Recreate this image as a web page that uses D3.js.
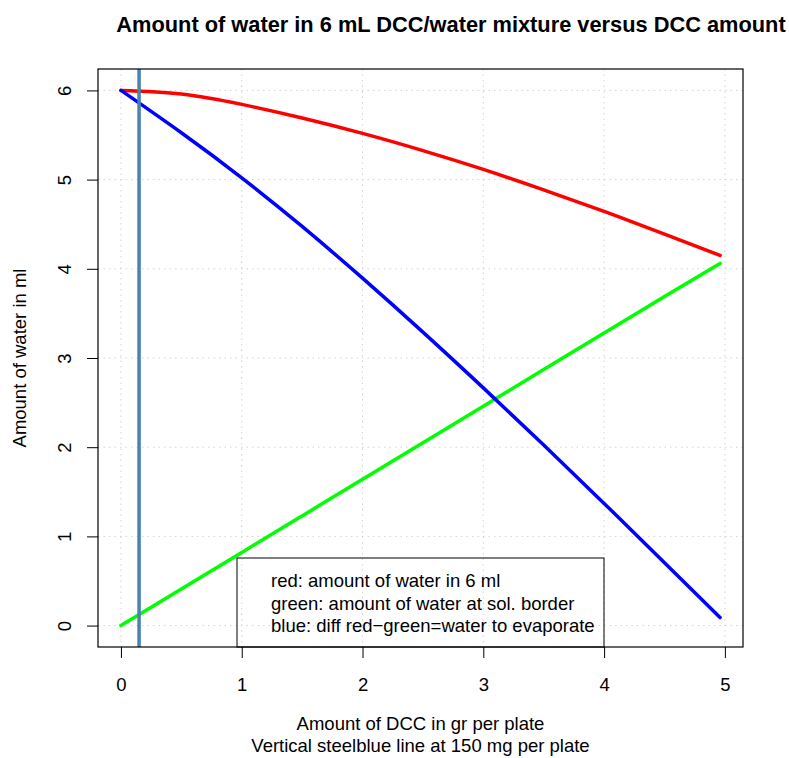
<!DOCTYPE html>
<html>
<head>
<meta charset="utf-8">
<script src="https://cdn.jsdelivr.net/npm/d3@7"></script>
<style>
  html, body { margin: 0; padding: 0; background: #fff; }
  svg { display: block; font-family: "Liberation Sans", Arial, Helvetica, sans-serif; }
</style>
</head>
<body>
<svg id="chart" width="789" height="758"></svg>
<script>
// DCC amount per plate (g)
const dccGrams = [0, 0.5, 1, 1.5, 2, 2.5, 3, 3.5, 4, 4.5, 4.96];
// water in the 6 mL DCC/water mixture (mL)
const waterTotal = [6.00, 5.96, 5.843, 5.69, 5.518, 5.325, 5.114, 4.885, 4.643, 4.39, 4.15];
// water at the solubility border (mL)
const waterBorder = [0.00, 0.41, 0.82, 1.23, 1.64, 2.05, 2.46, 2.87, 3.28, 3.69, 4.06];
// difference red - green: water to evaporate (mL)
const waterEvaporate = [6.00, 5.525, 5.02, 4.475, 3.895, 3.29, 2.665, 2.025, 1.37, 0.705, 0.09];
// reference dose: 150 mg per plate
const markerDose = 0.15;

const xTicks = [0, 1, 2, 3, 4, 5];
const yTicks = [0, 1, 2, 3, 4, 5, 6];
const legendLines = [
  "red: amount of water in 6 ml",
  "green: amount of water at sol. border",
  "blue: diff red\u2212green=water to evaporate"
];

const svg = d3.select("#chart");
const plot = { left: 98, right: 743, top: 69, bottom: 647 };
const fontSize = "18.5px";

const x = d3.scaleLinear().domain([-0.19, 5.15]).range([plot.left, plot.right]);
const y = d3.scaleLinear().domain([-0.24, 6.24]).range([plot.bottom, plot.top]);

// dotted grid at tick positions
const grid = svg.append("g");
grid.selectAll("line.gx").data(xTicks).join("line")
  .attr("x1", d => x(d)).attr("x2", d => x(d))
  .attr("y1", plot.top).attr("y2", plot.bottom)
  .attr("stroke", "#d3d3d3").attr("stroke-width", 1).attr("stroke-dasharray", "1.5,4");
grid.selectAll("line.gy").data(yTicks).join("line")
  .attr("y1", d => y(d)).attr("y2", d => y(d))
  .attr("x1", plot.left).attr("x2", plot.right)
  .attr("stroke", "#d3d3d3").attr("stroke-width", 1).attr("stroke-dasharray", "1.5,4");

// the three water curves
const series = [
  { values: waterTotal, color: "#ff0000" },
  { values: waterBorder, color: "#00ff00" },
  { values: waterEvaporate, color: "#0000ff" }
];
const line = d3.line()
  .x(d => x(d[0])).y(d => y(d[1]))
  .curve(d3.curveNatural);
svg.append("g").selectAll("path").data(series).join("path")
  .attr("d", s => line(dccGrams.map((g, i) => [g, s.values[i]])))
  .attr("fill", "none")
  .attr("stroke", s => s.color)
  .attr("stroke-width", 3.5)
  .attr("stroke-linecap", "round")
  .attr("stroke-linejoin", "round");

// vertical marker at 150 mg per plate
svg.append("line")
  .attr("x1", x(markerDose)).attr("x2", x(markerDose))
  .attr("y1", plot.top).attr("y2", plot.bottom)
  .attr("stroke", "steelblue").attr("stroke-width", 3.5);

// axes
const xAxis = svg.append("g")
  .attr("transform", `translate(0,${plot.bottom})`)
  .call(d3.axisBottom(x).tickValues(xTicks).tickSize(11).tickPadding(20).tickFormat(d3.format("d")));
const yAxis = svg.append("g")
  .attr("transform", `translate(${plot.left},0)`)
  .call(d3.axisLeft(y).tickValues(yTicks).tickSize(11).tickFormat(d3.format("d")));
[xAxis, yAxis].forEach(a => {
  a.select(".domain").remove();
  a.selectAll(".tick line").attr("stroke", "#000").attr("stroke-width", 1);
  a.selectAll(".tick text").attr("fill", "#000").style("font-size", fontSize)
    .style("font-family", "'Liberation Sans', Arial, Helvetica, sans-serif");
});
yAxis.selectAll(".tick text")
  .attr("x", null).attr("dy", null)
  .attr("transform", "translate(-34,0) rotate(-90)")
  .attr("text-anchor", "middle")
  .attr("dominant-baseline", "central");

// plot frame
svg.append("rect")
  .attr("x", plot.left).attr("y", plot.top)
  .attr("width", plot.right - plot.left).attr("height", plot.bottom - plot.top)
  .attr("fill", "none").attr("stroke", "#000").attr("stroke-width", 1.2);

// legend at the bottom centre
const legend = svg.append("g");
legend.append("rect")
  .attr("x", 237).attr("y", 558).attr("width", 367).attr("height", plot.bottom - 558)
  .attr("fill", "none").attr("stroke", "#000").attr("stroke-width", 1);
legend.selectAll("text").data(legendLines).join("text")
  .attr("x", 271).attr("y", (d, i) => 587 + i * 22.5)
  .style("font-size", fontSize).attr("fill", "#000")
  .text(d => d);

// title and axis titles
svg.append("text")
  .attr("x", 451).attr("y", 32)
  .attr("text-anchor", "middle")
  .style("font-size", "21.8px").style("font-weight", "bold")
  .text("Amount of water in 6 mL DCC/water mixture versus DCC amount");

svg.append("text")
  .attr("x", (plot.left + plot.right) / 2).attr("y", 730)
  .attr("text-anchor", "middle").style("font-size", fontSize)
  .text("Amount of DCC in gr per plate");
svg.append("text")
  .attr("x", (plot.left + plot.right) / 2).attr("y", 752)
  .attr("text-anchor", "middle").style("font-size", fontSize)
  .text("Vertical steelblue line at 150 mg per plate");

svg.append("text")
  .attr("transform", `translate(26,${(plot.top + plot.bottom) / 2}) rotate(-90)`)
  .attr("text-anchor", "middle").style("font-size", fontSize)
  .text("Amount of water in ml");
</script>
</body>
</html>
